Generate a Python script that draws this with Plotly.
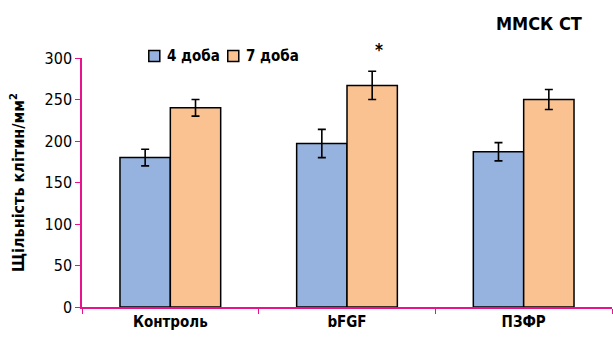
import plotly.graph_objects as go

# Cell density by treatment group
categories = ["Контроль", "bFGF", "ПЗФР"]
day4 = [180, 197, 187]
day4_err = [10, 17, 11]
day7 = [240, 267, 250]
day7_err = [10, 17, 12]
series_names = ["4 доба", "7 доба"]
series_colors = ["#95b3de", "#f9c290"]
y_ticks = [0, 50, 100, 150, 200, 250, 300]

FONT = "DejaVu Sans Condensed, Liberation Sans Narrow, sans-serif"
AXIS_COLOR = "#e8128c"

fig = go.Figure()
for name, vals, errs, color in zip(series_names, [day4, day7], [day4_err, day7_err], series_colors):
    fig.add_trace(go.Bar(
        name=name, x=categories, y=vals, showlegend=False,
        marker=dict(color=color, line=dict(color="#000000", width=1.5)),
        error_y=dict(type="data", array=errs, color="#000000", thickness=1.6, width=4),
    ))

# significance mark above bFGF, day 7
fig.add_annotation(
    x="bFGF", y=day7[1] + day7_err[1], xref="x", yref="y",
    text="*", showarrow=False, xshift=32, yshift=21, yanchor="middle",
    font=dict(family=FONT, size=17, color="#000000", weight="bold"),
)
fig.add_annotation(
    x=0.947, y=1.14, xref="paper", yref="paper",
    text="ММСК СТ", showarrow=False, xanchor="right", yanchor="middle",
    font=dict(family=FONT, size=18, color="#000000", weight="bold"),
)

# legend: swatch + label per series
legend_x = [0.126, 0.275]
for lx, name, color in zip(legend_x, series_names, series_colors):
    fig.add_shape(
        type="rect", xref="paper", yref="paper",
        x0=lx, x1=lx + 0.0208, y0=0.986, y1=1.03,
        fillcolor=color, line=dict(color="#000000", width=1.5),
    )
    fig.add_annotation(
        x=lx + 0.031, y=1.008, xref="paper", yref="paper",
        text=name, showarrow=False, xanchor="left", yanchor="middle",
        font=dict(family=FONT, size=15, color="#000000", weight="bold"),
    )

fig.update_layout(
    width=613, height=338,
    margin=dict(l=82, r=1, t=58, b=31),
    plot_bgcolor="#ffffff", paper_bgcolor="#ffffff",
    barmode="group", bargap=0.43, bargroupgap=0,
    font=dict(family=FONT, size=15, color="#000000"),
    showlegend=False,
    xaxis=dict(
        showline=True, linecolor=AXIS_COLOR, linewidth=1.5,
        ticks="outside", tickson="boundaries", tickcolor=AXIS_COLOR, ticklen=5,
        tickfont=dict(family=FONT, size=15, color="#000000", weight="bold"),
        showgrid=False, zeroline=False,
    ),
    yaxis=dict(
        range=[0, 300], tickvals=y_ticks,
        showline=True, linecolor=AXIS_COLOR, linewidth=1.5,
        ticks="outside", tickcolor=AXIS_COLOR, ticklen=5,
        tickfont=dict(family=FONT, size=16, color="#000000"),
        showgrid=False, zeroline=False,
        title=dict(
            text="Щільність клітин/мм<sup>2</sup>", standoff=16,
            font=dict(family=FONT, size=16, color="#000000", weight="bold"),
        ),
    ),
)

fig.write_html("out.html")
